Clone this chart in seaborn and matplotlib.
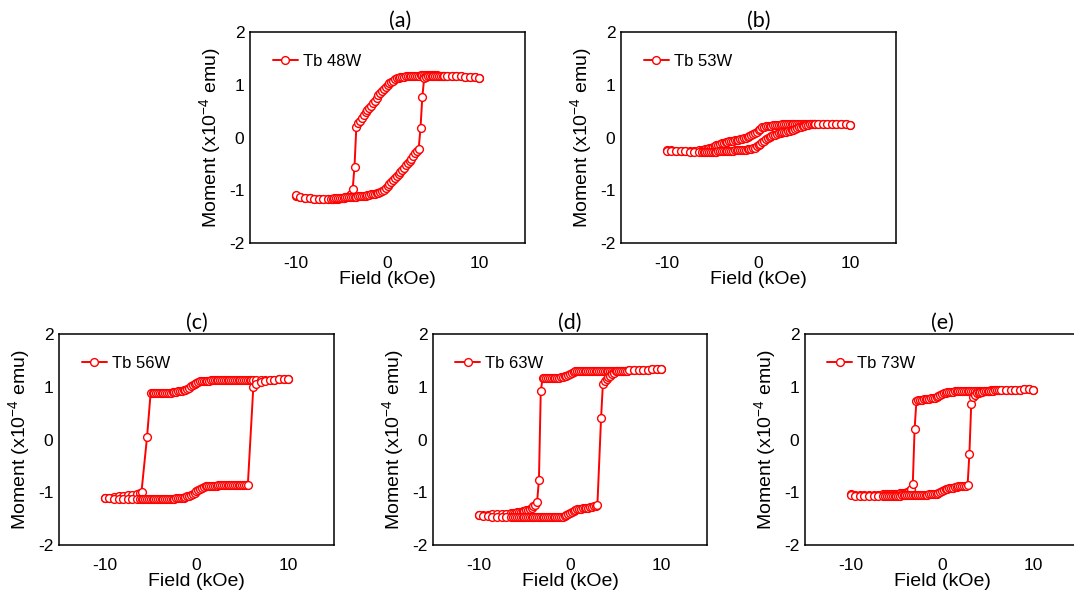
import numpy as np
import pandas as pd
import seaborn as sns
import matplotlib.pyplot as plt

nan = np.nan

# applied field (kOe), same sweep points for every sample
field = [-10, -9.5, -9, -8.5, -8, -7.5, -7, -6.5,
         -6.2, -6.0, -5.8, -5.6, -5.4, -5.2, -5.0,
         -4.8, -4.6, -4.4, -4.2, -4.0, -3.8, -3.6, -3.4, -3.2, -3.0,
         -2.8, -2.6, -2.4, -2.2, -2.0, -1.8, -1.6, -1.4, -1.2, -1.0,
         -0.8, -0.6, -0.4, -0.2, 0.0, 0.2, 0.4, 0.6, 0.8, 1.0,
         1.2, 1.4, 1.6, 1.8, 2.0, 2.2, 2.4, 2.6, 2.8, 3.0,
         3.2, 3.4, 3.6, 3.8, 4.0, 4.2, 4.4, 4.6, 4.8, 5.0,
         5.2, 5.4, 5.6, 5.8, 6.0, 6.2,
         6.5, 7, 7.5, 8, 8.5, 9, 9.5, 10]

# moment (x1e-4 emu); "down" = sweep from +10 to -10, "up" = -10 to +10
m48_down = [-1.10, -1.12, -1.14, -1.15, -1.16, -1.17, -1.17, -1.17,
            -1.17, -1.17, -1.17, -1.16, -1.16, -1.15, -1.15,
            -1.14, -1.13, -1.12, -1.10, -1.08, -0.98, -0.55, 0.20, 0.27, 0.32,
            0.37, 0.42, 0.48, 0.52, 0.56, 0.60, 0.65, 0.70, 0.75, 0.80,
            0.84, 0.88, 0.92, 0.96, 1.00, 1.04, 1.06, 1.08, 1.10, 1.12,
            1.13, 1.14, 1.15, 1.15, 1.16, 1.16, 1.16, 1.17, 1.17, 1.17,
            1.17, 1.17, 1.18, 1.18, 1.18, 1.18, 1.18, 1.18, 1.18, 1.18,
            1.18, 1.18, 1.17, 1.17, 1.17, 1.17,
            1.17, 1.17, 1.16, 1.16, 1.15, 1.15, 1.14, 1.13]
m48_up = [-1.09, -1.12, -1.14, -1.15, -1.16, -1.16, -1.16, -1.16,
          -1.16, -1.16, -1.15, -1.15, -1.15, -1.14, -1.14,
          -1.14, -1.13, -1.13, -1.13, -1.13, -1.12, -1.12, -1.12, -1.11, -1.11,
          -1.11, -1.10, -1.10, -1.09, -1.09, -1.08, -1.08, -1.07, -1.06, -1.05,
          -1.04, -1.02, -0.99, -0.95, -0.91, -0.88, -0.85, -0.81, -0.77, -0.73,
          -0.69, -0.65, -0.61, -0.57, -0.53, -0.49, -0.45, -0.40, -0.35, -0.30,
          -0.26, -0.21, 0.18, 0.77, 1.12, 1.15, 1.16, 1.17, 1.17, 1.17,
          1.17, 1.17, 1.17, 1.17, 1.17, 1.17,
          1.17, 1.17, 1.16, 1.16, 1.15, 1.15, 1.14, 1.13]

m53_down = [-0.23, -0.24, -0.25, -0.25, -0.25, -0.25, -0.25, -0.24,
            -0.23, -0.23, -0.22, -0.21, -0.20, -0.19, -0.18,
            -0.17, -0.15, -0.14, -0.13, -0.11, -0.10, -0.08, -0.08, -0.07, -0.06,
            -0.06, -0.05, -0.05, -0.04, -0.03, -0.02, -0.01, 0.00, 0.01, 0.02,
            0.04, 0.06, 0.08, 0.11, 0.14, 0.17, 0.19, 0.20, 0.21, 0.22,
            0.22, 0.22, 0.23, 0.23, 0.24, 0.24, 0.24, 0.25, 0.25, 0.25,
            0.25, 0.25, 0.26, 0.26, 0.26, 0.26, 0.26, 0.26, 0.26, 0.26,
            0.26, 0.26, 0.26, 0.26, 0.26, 0.26,
            0.26, 0.26, 0.26, 0.25, 0.25, 0.25, 0.25, 0.24]
m53_up = [-0.25, -0.26, -0.26, -0.26, -0.26, -0.27, -0.27, -0.27,
          -0.27, -0.27, -0.27, -0.27, -0.27, -0.27, -0.27,
          -0.27, -0.27, -0.26, -0.26, -0.26, -0.26, -0.26, -0.25, -0.25, -0.25,
          -0.25, -0.24, -0.24, -0.24, -0.24, -0.23, -0.23, -0.23, -0.22, -0.22,
          -0.21, -0.20, -0.19, -0.17, -0.15, -0.12, -0.09, -0.06, -0.03, -0.01,
          0.01, 0.03, 0.04, 0.05, 0.07, 0.08, 0.09, 0.10, 0.11, 0.11,
          0.12, 0.13, 0.14, 0.15, 0.17, 0.18, 0.19, 0.20, 0.21, 0.22,
          0.23, 0.24, 0.25, 0.25, 0.26, 0.26,
          0.26, 0.26, 0.26, 0.25, 0.25, 0.25, 0.25, 0.24]

m56_down = [-1.10, -1.10, -1.09, -1.08, -1.07, -1.06, -1.05, -1.03,
            -1.02, -0.99, nan, nan, 0.04, nan, 0.89,
            0.88, 0.88, 0.88, 0.88, 0.88, 0.88, 0.88, 0.89, 0.89, 0.89,
            0.89, 0.90, 0.90, 0.90, 0.91, 0.91, 0.92, 0.93, 0.94, 0.96,
            0.98, 1.01, 1.03, 1.06, 1.07, 1.09, 1.10, 1.10, 1.11, 1.11,
            1.11, 1.11, 1.12, 1.12, 1.12, 1.12, 1.12, 1.12, 1.12, 1.13,
            1.13, 1.13, 1.13, 1.13, 1.13, 1.13, 1.13, 1.13, 1.13, 1.13,
            1.13, 1.13, 1.13, 1.12, 1.12, 1.12,
            1.12, 1.12, 1.13, 1.13, 1.13, 1.14, 1.14, 1.15]
m56_up = [-1.10, -1.11, -1.12, -1.12, -1.13, -1.13, -1.13, -1.13,
          -1.13, -1.13, -1.13, -1.13, -1.13, -1.13, -1.13,
          -1.13, -1.13, -1.13, -1.13, -1.13, -1.13, -1.13, -1.13, -1.13, -1.12,
          -1.12, -1.12, -1.12, -1.11, -1.11, -1.11, -1.10, -1.10, -1.09, -1.08,
          -1.07, -1.05, -1.03, -1.01, -0.98, -0.95, -0.93, -0.91, -0.90, -0.89,
          -0.89, -0.88, -0.88, -0.88, -0.88, -0.88, -0.87, -0.87, -0.87, -0.87,
          -0.87, -0.87, -0.87, -0.87, -0.87, -0.87, -0.87, -0.87, -0.87, -0.87,
          -0.87, -0.87, -0.86, nan, nan, 1.00,
          1.06, 1.09, 1.11, 1.12, 1.13, 1.14, 1.14, 1.15]

m63_down = [-1.43, -1.43, -1.43, -1.42, -1.42, -1.41, -1.41, -1.40,
            -1.39, -1.39, -1.38, -1.38, -1.37, -1.36, -1.35,
            -1.34, -1.33, -1.31, -1.29, -1.27, -1.24, -1.18, -0.76, 0.92, 1.16,
            1.16, 1.16, 1.16, 1.16, 1.17, 1.17, 1.17, 1.17, 1.17, 1.18,
            1.19, 1.20, 1.21, 1.23, 1.25, 1.27, 1.28, 1.29, 1.30, 1.30,
            1.30, 1.30, 1.30, 1.30, 1.30, 1.30, 1.30, 1.30, 1.30, 1.30,
            1.30, 1.30, 1.30, 1.30, 1.30, 1.30, 1.30, 1.30, 1.30, 1.30,
            1.30, 1.30, 1.30, 1.30, 1.30, 1.30,
            1.31, 1.31, 1.31, 1.32, 1.32, 1.33, 1.34, 1.34]
m63_up = [-1.44, -1.45, -1.45, -1.46, -1.46, -1.46, -1.46, -1.47,
          -1.47, -1.47, -1.47, -1.47, -1.47, -1.47, -1.47,
          -1.47, -1.47, -1.47, -1.47, -1.47, -1.47, -1.47, -1.47, -1.47, -1.47,
          -1.47, -1.47, -1.47, -1.47, -1.47, -1.47, -1.47, -1.47, -1.47, -1.46,
          -1.46, -1.45, -1.44, -1.42, -1.40, -1.37, -1.35, -1.33, -1.32, -1.31,
          -1.31, -1.30, -1.30, -1.29, -1.29, -1.28, -1.28, -1.27, -1.26, -1.24,
          nan, 0.40, 1.05, 1.10, 1.14, 1.18, 1.21, 1.24, 1.27, 1.29,
          1.30, 1.30, 1.30, 1.30, 1.30, 1.30,
          1.31, 1.31, 1.31, 1.32, 1.32, 1.33, 1.34, 1.34]

m73_down = [-1.04, -1.05, -1.05, -1.05, -1.05, -1.05, -1.05, -1.04,
            -1.04, -1.04, -1.04, -1.04, -1.03, -1.03, -1.03,
            -1.03, -1.02, -1.02, -1.01, -1.01, -1.00, -0.98, -0.94, -0.85, 0.20,
            0.73, 0.74, 0.75, 0.75, 0.76, 0.76, 0.77, 0.77, 0.78, 0.78,
            0.79, 0.80, 0.82, 0.84, 0.86, 0.88, 0.89, 0.90, 0.90, 0.90,
            0.90, 0.91, 0.91, 0.91, 0.91, 0.91, 0.92, 0.92, 0.92, 0.92,
            0.92, 0.92, 0.92, 0.92, 0.92, 0.92, 0.92, 0.92, 0.92, 0.92,
            0.92, 0.93, 0.93, 0.93, 0.93, 0.93,
            0.93, 0.94, 0.94, 0.94, 0.94, 0.95, 0.95, 0.94]
m73_up = [-1.06, -1.07, -1.07, -1.07, -1.07, -1.07, -1.07, -1.07,
          -1.07, -1.07, -1.07, -1.07, -1.07, -1.07, -1.07,
          -1.07, -1.07, -1.06, -1.06, -1.06, -1.06, -1.06, -1.06, -1.06, -1.06,
          -1.05, -1.05, -1.05, -1.05, -1.05, -1.05, -1.05, -1.04, -1.04, -1.04,
          -1.03, -1.03, -1.02, -1.00, -0.98, -0.96, -0.94, -0.93, -0.92, -0.91,
          -0.91, -0.90, -0.90, -0.89, -0.89, -0.89, -0.88, -0.88, -0.87, -0.27,
          0.67, 0.80, 0.85, 0.88, 0.89, 0.90, 0.90, 0.91, 0.91, 0.91,
          0.92, 0.92, 0.92, 0.93, 0.93, 0.93,
          0.93, 0.94, 0.94, 0.94, 0.94, 0.95, 0.95, 0.94]

samples = ['Tb 48W', 'Tb 53W', 'Tb 56W', 'Tb 63W', 'Tb 73W']
panel_tags = ['(a)', '(b)', '(c)', '(d)', '(e)']
down_branches = [m48_down, m53_down, m56_down, m63_down, m73_down]
up_branches = [m48_up, m53_up, m56_up, m63_up, m73_up]

sns.set_style('white')
plt.rcParams['font.family'] = ['Liberation Sans', 'DejaVu Sans']
plt.rcParams['text.color'] = 'black'
plt.rcParams['axes.labelcolor'] = 'black'
plt.rcParams['axes.unicode_minus'] = False
plt.rcParams['mathtext.fontset'] = 'custom'
plt.rcParams['mathtext.rm'] = 'Liberation Sans'
plt.rcParams['mathtext.it'] = 'Liberation Sans:italic'

fig = plt.figure(figsize=(10.74, 5.94), dpi=100)
W, H = 1074, 594
# axes boxes in pixels: left, top, width, height
boxes = [(250, 32, 275, 211), (621, 32, 275, 211),
         (59, 334, 275, 211), (433, 334, 274, 211), (805, 334, 274, 211)]
title_x = [0.547, 0.5, 0.5, 0.5, 0.5]

line_kw = dict(color='red', marker='o', markersize=5.6, markerfacecolor='white',
               markeredgecolor='red', markeredgewidth=1.0, linewidth=1.4)

for i, (l, t, w, h) in enumerate(boxes):
    ax = fig.add_axes([l / W, 1 - (t + h) / H, w / W, h / H])
    df = pd.DataFrame({'field': field, 'down': down_branches[i], 'up': up_branches[i]})
    sns.lineplot(data=df, x='field', y='down', ax=ax, label=samples[i], **line_kw)
    sns.lineplot(data=df, x='field', y='up', ax=ax, legend=False, **line_kw)

    ax.set_xlim(-15, 15)
    ax.set_ylim(-2, 2)
    ax.set_xticks([-10, 0, 10])
    ax.set_yticks([-2, -1, 0, 1, 2])
    ax.tick_params(length=0, labelsize=12.5, colors='black')
    ax.tick_params(axis='x', pad=9)
    ax.tick_params(axis='y', pad=4)
    for s in ax.spines.values():
        s.set_color('black')
        s.set_linewidth(1.1)
    ax.set_xlabel('Field (kOe)', fontsize=14, labelpad=0)
    ax.set_ylabel(r'Moment (x10$^{-4}$ emu)', fontsize=14, labelpad=4)
    ax.set_title(panel_tags[i], fontsize=15.5, x=title_x[i], pad=4,
                 family=['Lato', 'DejaVu Sans'])
    ax.legend(loc='center left', bbox_to_anchor=(0.082, 0.86), frameon=False,
              fontsize=12, handlelength=1.5, handletextpad=0.3,
              borderpad=0, borderaxespad=0)

fig.savefig('out.png', dpi=100)
